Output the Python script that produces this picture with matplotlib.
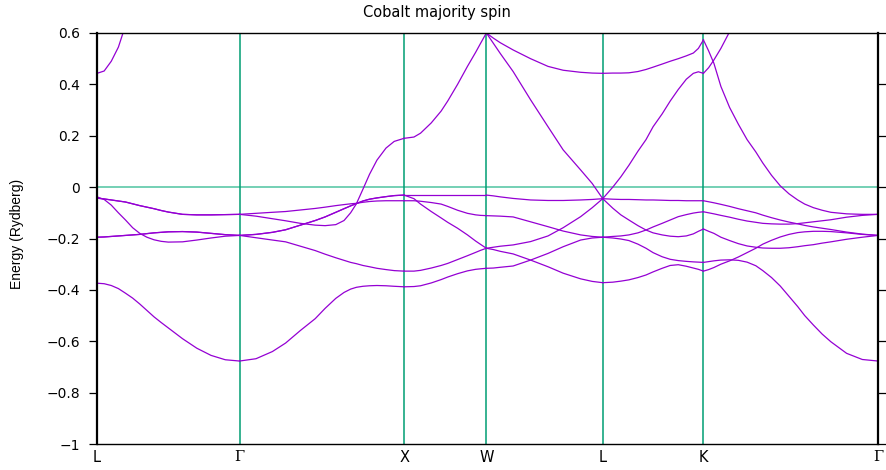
import numpy as np
import matplotlib.pyplot as plt

nan = np.nan

# high-symmetry points along the fcc path (distances in 2pi/a)
sym_labels = ['L', 'Γ', 'X', 'W', 'L', 'K', 'Γ']
sym_k = [0.0, 0.866, 1.866, 2.366, 3.073, 3.685, 4.746]

# L -> Gamma  (t = fraction along the segment)
t_lg = [0, .05, .1, .15, .2, .25, .3, .35, .4, .45, .5, .6, .7, .8, .9, 1]
lg_low = [-0.374, -0.376, -0.383, -0.395, -0.413, -0.432, -0.455, -0.48, -0.505, -0.527, -0.548, -0.59, -0.627, -0.655, -0.672, -0.677]
lg_c = [-0.195, -0.194, -0.192, -0.19, -0.188, -0.186, -0.184, -0.181, -0.178, -0.176, -0.174, -0.173, -0.175, -0.18, -0.185, -0.188]
lg_b = [-0.038, -0.048, -0.07, -0.1, -0.128, -0.158, -0.18, -0.195, -0.205, -0.211, -0.214, -0.213, -0.206, -0.198, -0.191, -0.188]
lg_a = [-0.043, -0.046, -0.05, -0.054, -0.058, -0.065, -0.072, -0.078, -0.084, -0.091, -0.097, -0.106, -0.108, -0.108, -0.107, -0.106]
lg_up = [0.443, 0.452, 0.49, 0.545, 0.63, nan, nan, nan, nan, nan, nan, nan, nan, nan, nan, nan]

# Gamma -> X
t_gx = [0, .1, .2, .28, .37, .46, .52, .585, .635, .675, .71, .75, .79, .835, .89, .94, 1]
gx_low = [-0.677, -0.668, -0.64, -0.607, -0.558, -0.512, -0.472, -0.433, -0.41, -0.397, -0.39, -0.386, -0.384, -0.383, -0.384, -0.386, -0.388]
gx_d2 = [-0.188, -0.197, -0.206, -0.213, -0.23, -0.247, -0.261, -0.275, -0.285, -0.293, -0.298, -0.305, -0.31, -0.316, -0.321, -0.325, -0.327]
gx_d5 = [-0.188, -0.184, -0.176, -0.166, -0.148, -0.13, -0.116, -0.098, -0.084, -0.073, -0.064, -0.054, -0.047, -0.042, -0.037, -0.033, -0.031]
gx_flat = [-0.106, -0.102, -0.098, -0.095, -0.089, -0.083, -0.078, -0.072, -0.068, -0.065, -0.063, -0.059, -0.056, -0.054, -0.053, -0.053, -0.053]
gx_dip = [-0.106, -0.113, -0.123, -0.131, -0.141, -0.148, -0.15, -0.146, -0.13, -0.1, -0.065, -0.008, 0.05, 0.105, 0.152, 0.178, 0.19]

# X -> W
t_xw = [0, .12, .2, .33, .45, .53, .65, .77, .87, .93, 1]
xw_low = [-0.388, -0.387, -0.384, -0.373, -0.36, -0.35, -0.337, -0.326, -0.32, -0.318, -0.316]
xw_d2 = [-0.327, -0.327, -0.324, -0.315, -0.305, -0.297, -0.282, -0.267, -0.254, -0.246, -0.238]
xw_steep = [-0.031, -0.045, -0.066, -0.095, -0.12, -0.137, -0.16, -0.186, -0.21, -0.223, -0.238]
xw_flat = [-0.031, -0.031, -0.031, -0.031, -0.031, -0.031, -0.031, -0.031, -0.031, -0.031, -0.031]
xw_mid = [-0.053, -0.053, -0.055, -0.06, -0.066, -0.075, -0.09, -0.102, -0.108, -0.11, -0.111]
xw_rise = [0.19, 0.195, 0.21, 0.25, 0.296, 0.335, 0.4, 0.47, 0.525, 0.56, 0.6]

# W -> L
t_wl = [0, .06, .12, .23, .38, .53, .66, .81, .91, 1]
wl_up = [0.6, 0.58, 0.562, 0.534, 0.5, 0.47, 0.455, 0.447, 0.444, 0.443]
wl_steep = [0.6, 0.56, 0.52, 0.45, 0.34, 0.235, 0.145, 0.067, 0.014, -0.045]
wl_a = [-0.031, -0.034, -0.038, -0.044, -0.05, -0.052, -0.052, -0.05, -0.048, -0.045]
wl_b = [-0.111, -0.112, -0.113, -0.116, -0.135, -0.154, -0.171, -0.186, -0.192, -0.195]
wl_rise = [-0.238, -0.234, -0.23, -0.225, -0.212, -0.19, -0.158, -0.115, -0.08, -0.045]
wl_fall = [-0.238, -0.243, -0.25, -0.26, -0.284, -0.31, -0.335, -0.357, -0.367, -0.372]
wl_low = [-0.316, -0.315, -0.312, -0.307, -0.284, -0.258, -0.232, -0.206, -0.198, -0.195]

# L -> K
t_lk = [0, .1, .18, .26, .35, .43, .5, .59, .67, .75, .83, .9, .95, 1]
lk_up = [0.443, 0.444, 0.444, 0.445, 0.45, 0.458, 0.467, 0.479, 0.49, 0.5, 0.511, 0.522, 0.54, 0.573]
lk_v = [-0.045, 0.0, 0.04, 0.085, 0.14, 0.185, 0.235, 0.285, 0.335, 0.38, 0.42, 0.443, 0.449, 0.443]
lk_a = [-0.045, -0.047, -0.048, -0.048, -0.049, -0.05, -0.05, -0.051, -0.052, -0.052, -0.053, -0.053, -0.053, -0.053]
lk_down = [-0.045, -0.082, -0.108, -0.128, -0.15, -0.167, -0.178, -0.186, -0.191, -0.193, -0.19, -0.182, -0.172, -0.163]
lk_b = [-0.195, -0.192, -0.19, -0.186, -0.178, -0.167, -0.155, -0.141, -0.128, -0.115, -0.107, -0.101, -0.098, -0.096]
lk_fall = [-0.195, -0.198, -0.202, -0.208, -0.222, -0.238, -0.255, -0.271, -0.281, -0.286, -0.289, -0.291, -0.292, -0.293]
lk_low = [-0.372, -0.37, -0.366, -0.361, -0.352, -0.342, -0.33, -0.316, -0.305, -0.302, -0.308, -0.315, -0.32, -0.327]

# K -> Gamma
t_kg = [0, .03, .06, .1, .15, .2, .25, .3, .34, .39, .44, .49, .54, .58, .63, .68, .73, .82, .91, 1]
kg_up = [0.573, 0.53, 0.482, 0.392, 0.31, 0.245, 0.185, 0.137, 0.094, 0.046, 0.005, -0.026, -0.05, -0.066, -0.08, -0.09, -0.098, -0.104, -0.106, -0.106]
kg_v = [0.443, 0.465, 0.495, 0.54, 0.605, nan, nan, nan, nan, nan, nan, nan, nan, nan, nan, nan, nan, nan, nan, nan]
kg_a = [-0.053, -0.057, -0.061, -0.067, -0.075, -0.084, -0.092, -0.1, -0.109, -0.119, -0.128, -0.136, -0.143, -0.149, -0.155, -0.16, -0.165, -0.175, -0.183, -0.188]
kg_b = [-0.096, -0.1, -0.104, -0.11, -0.117, -0.125, -0.132, -0.137, -0.141, -0.143, -0.144, -0.144, -0.142, -0.139, -0.135, -0.131, -0.127, -0.117, -0.11, -0.106]
kg_c = [-0.163, -0.172, -0.18, -0.195, -0.208, -0.22, -0.229, -0.234, -0.237, -0.238, -0.238, -0.236, -0.232, -0.228, -0.224, -0.218, -0.213, -0.203, -0.195, -0.188]
kg_d = [-0.327, -0.321, -0.313, -0.3, -0.287, -0.272, -0.255, -0.238, -0.222, -0.207, -0.194, -0.184, -0.177, -0.174, -0.172, -0.172, -0.173, -0.178, -0.184, -0.188]
kg_low = [-0.293, -0.29, -0.287, -0.284, -0.283, -0.285, -0.292, -0.306, -0.325, -0.352, -0.385, -0.425, -0.465, -0.5, -0.537, -0.572, -0.602, -0.647, -0.671, -0.677]

# degenerate bands are listed twice so they overlap like in the original
segments = [
    (t_lg, [lg_low, lg_c, lg_c, lg_b, lg_a, lg_a, lg_up]),
    (t_gx, [gx_low, gx_d2, gx_d5, gx_d5, gx_flat, gx_dip]),
    (t_xw, [xw_low, xw_d2, xw_steep, xw_flat, xw_mid, xw_rise]),
    (t_wl, [wl_up, wl_steep, wl_a, wl_b, wl_rise, wl_fall, wl_low]),
    (t_lk, [lk_up, lk_v, lk_a, lk_down, lk_b, lk_fall, lk_low]),
    (t_kg, [kg_up, kg_v, kg_a, kg_b, kg_c, kg_d, kg_low]),
]

plt.rcParams['font.family'] = ['DejaVu Sans']

fig = plt.figure(figsize=(8.86, 4.70), dpi=100)
ax = fig.add_axes([0.1095, 0.0553, 0.8815, 0.8745])

band_color = '#9400d3'
for i, (t, bands) in enumerate(segments):
    k0, k1 = sym_k[i], sym_k[i + 1]
    x = k0 + np.array(t) * (k1 - k0)
    for e in bands:
        ax.plot(x, e, color=band_color, lw=0.9, solid_joinstyle='round')

# Fermi level and symmetry lines
ax.axhline(0, color='#74d0b4', lw=1.4, zorder=1)
for k in sym_k[1:-1]:
    ax.axvline(k, color='#009e73', lw=1.1, zorder=1)

ax.set_xlim(sym_k[0], sym_k[-1])
ax.set_ylim(-1, 0.6)
ax.set_xticks(sym_k)
ax.set_xticklabels(sym_labels, fontsize=10.5)
for lab in ax.get_xticklabels():
    if lab.get_text() == 'Γ':
        lab.set_family('DejaVu Serif')
ax.tick_params(axis='x', length=0, pad=4)

yt = [0.6, 0.4, 0.2, 0, -0.2, -0.4, -0.6, -0.8, -1]
ax.set_yticks(yt)
ax.set_yticklabels([('%g' % v).replace('-', '\u2212') for v in yt], fontsize=10)
ax.tick_params(axis='y', direction='out', length=6, width=0.9, pad=6,
               right=True, labelright=False)

for side in ['left', 'right']:
    ax.spines[side].set_linewidth(1.6)
for side in ['top', 'bottom']:
    ax.spines[side].set_linewidth(1.0)

ax.set_ylabel('Energy (Rydberg)', fontsize=10, family='Liberation Sans')
ax.yaxis.set_label_coords(-0.094, 0.51)
fig.text(0.493, 1 - 12 / 470, 'Cobalt majority spin', fontsize=10.5,
         ha='center', va='center')

fig.savefig('out.png', dpi=100)
